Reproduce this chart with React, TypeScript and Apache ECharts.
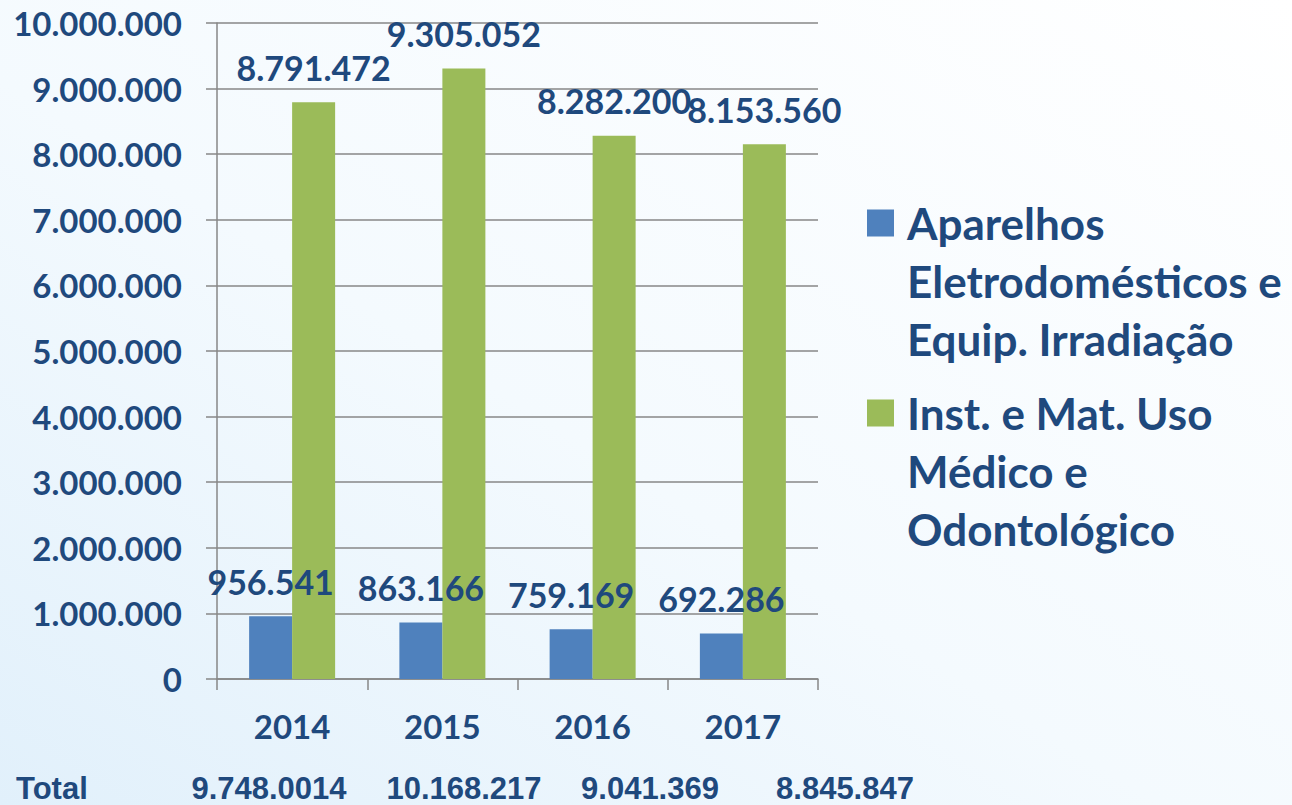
import React, { useEffect, useRef } from "react";
import * as echarts from "echarts";

const categories = ["2014", "2015", "2016", "2017"];
const seriesNames = [
  "Aparelhos\nEletrodomésticos e\nEquip. Irradiação",
  "Inst. e Mat. Uso\nMédico e\nOdontológico",
];
const aparelhos = [956541, 863166, 759169, 692286];
const instrumentos = [8791472, 9305052, 8282200, 8153560];
const totalLabel = "Total";
const totals = ["9.748.0014", "10.168.217", "9.041.369", "8.845.847"];
const yTicks = { min: 0, max: 10000000, interval: 1000000 };

const TEXT = "#1F497D";
const GRID = "#878787";
const FONT = "Lato";

const fmt = (v: number) =>
  String(Math.round(v)).replace(/\B(?=(\d{3})+(?!\d))/g, ".");

export default function App() {
  const ref = useRef<HTMLDivElement>(null);
  useEffect(() => {
    if (!ref.current) return;
    const chart = echarts.init(ref.current, null, { renderer: "svg" });
    const labelStyle = {
      show: true,
      position: "top" as const,
      distance: 18,
      color: TEXT,
      fontFamily: FONT,
      fontWeight: "bold" as const,
      fontSize: 34,
      formatter: (p: any) => fmt(p.value),
    };
    const legendText = {
      color: TEXT,
      fontFamily: FONT,
      fontWeight: "bold" as const,
      fontSize: 44,
      lineHeight: 58,
      padding: [0, 0, 0, 8],
    };
    // two empty lines before each name so that the first line sits level with the swatch
    const legendFormatter = (name: string) => "\n\n" + name;
    const totalXs = [269, 464, 650, 845];
    chart.setOption({
      animation: false,
      backgroundColor: {
        type: "linear",
        x: 0,
        y: 1,
        x2: 1,
        y2: 0,
        colorStops: [
          { offset: 0, color: "#e1f0fb" },
          { offset: 0.45, color: "#f4fafe" },
          { offset: 1, color: "#ffffff" },
        ],
      },
      grid: { left: 217, right: 474, top: 23, bottom: 126, containLabel: false },
      legend: [
        {
          data: [seriesNames[0]],
          left: 862,
          top: 73,
          orient: "vertical",
          icon: "rect",
          itemWidth: 27,
          itemHeight: 27,
          formatter: legendFormatter,
          textStyle: legendText,
          selectedMode: false,
        },
        {
          data: [seriesNames[1]],
          left: 862,
          top: 263,
          orient: "vertical",
          icon: "rect",
          itemWidth: 27,
          itemHeight: 27,
          formatter: legendFormatter,
          textStyle: legendText,
          selectedMode: false,
        },
      ],
      xAxis: {
        type: "category",
        data: categories,
        axisLine: { lineStyle: { color: GRID, width: 1.5 } },
        axisTick: { show: true, length: 11, lineStyle: { color: GRID, width: 1.5 } },
        axisLabel: {
          color: TEXT,
          fontFamily: FONT,
          fontWeight: "bold",
          fontSize: 33,
          margin: 30,
        },
      },
      yAxis: {
        type: "value",
        min: yTicks.min,
        max: yTicks.max,
        interval: yTicks.interval,
        axisLine: { show: true, lineStyle: { color: GRID, width: 1.5 } },
        axisTick: { show: true, length: 11, lineStyle: { color: GRID, width: 1.5 } },
        splitLine: { show: true, lineStyle: { color: GRID, width: 1.5 } },
        axisLabel: {
          color: TEXT,
          fontFamily: FONT,
          fontWeight: "bold",
          fontSize: 33,
          margin: 35,
          formatter: (v: number) => fmt(v),
        },
      },
      series: [
        {
          name: seriesNames[0],
          type: "bar",
          data: aparelhos,
          barWidth: 43,
          barGap: "0%",
          itemStyle: { color: "#4F81BD" },
          label: labelStyle,
        },
        {
          name: seriesNames[1],
          type: "bar",
          data: instrumentos,
          barWidth: 43,
          barGap: "0%",
          itemStyle: { color: "#9BBB59" },
          label: labelStyle,
        },
      ],
      graphic: [
        {
          type: "text",
          x: 16,
          y: 788,
          style: {
            text: totalLabel,
            fill: TEXT,
            verticalAlign: "middle",
            font: "bold 31px 'Liberation Sans', Arial, sans-serif",
          },
        },
        ...totals.map((t, i) => ({
          type: "text",
          x: totalXs[i],
          y: 788,
          style: {
            text: t,
            fill: TEXT,
            align: "center",
            verticalAlign: "middle",
            font: "bold 31px 'Liberation Sans', Arial, sans-serif",
          },
        })),
      ],
    });
    return () => chart.dispose();
  }, []);
  return (
    <div
      ref={ref}
      style={{ position: "fixed", left: 0, top: 0, width: 1292, height: 805 }}
    />
  );
}
